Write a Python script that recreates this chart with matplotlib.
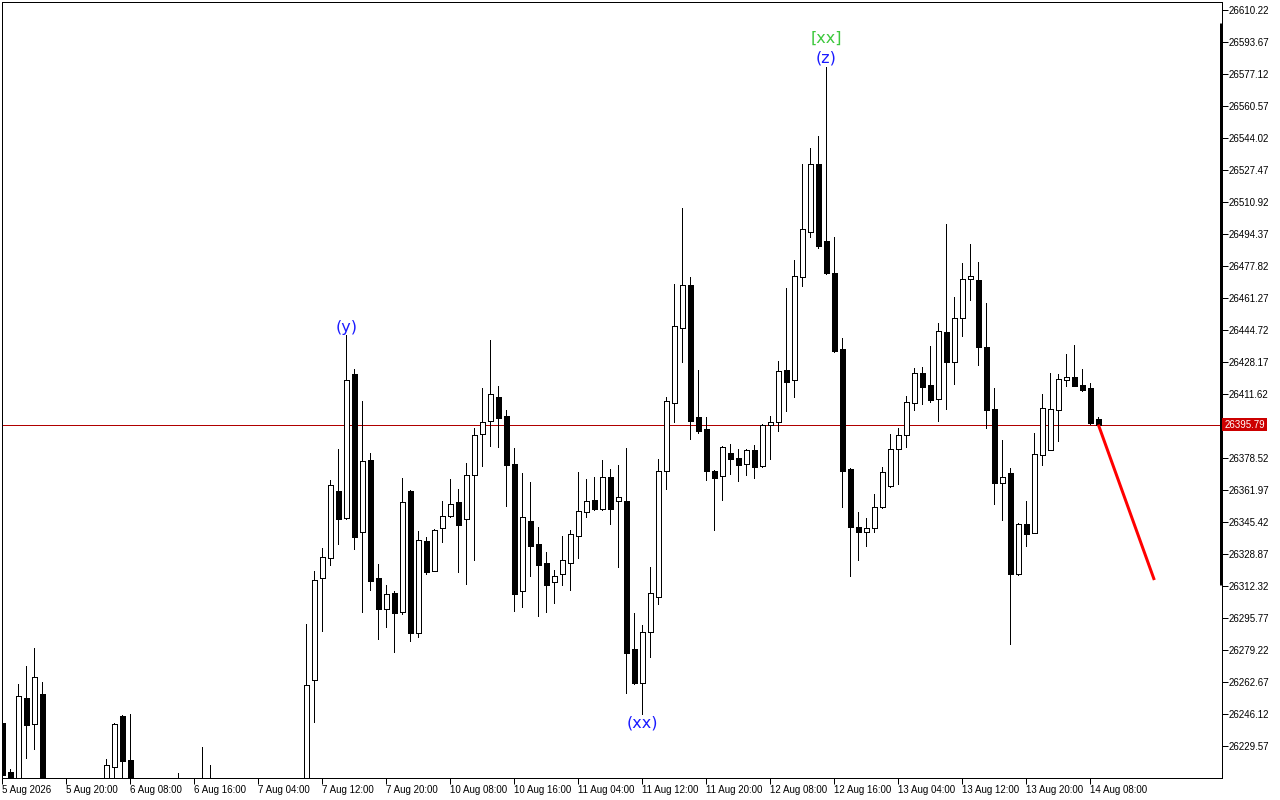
import numpy as np
import matplotlib
matplotlib.use('Agg')
import matplotlib.pyplot as plt
import matplotlib.transforms as mtransforms

nan = np.nan

# H1 bars, one per index; nan = bar completely below the visible price range
opens = [26241.5, 26216.1, 26205.0, 26254.4, 26240.9, 26256.5, nan, nan, nan, nan,
         nan, nan, nan, 26205.0, 26218.7, 26245.1, 26222.4, nan, nan, nan,
         nan, 26208.0, 26207.0, nan, nan, 26206.0, 26208.0, nan, nan, nan,
         nan, nan, nan, nan, nan, nan, nan, nan, 26205.0, 26263.7,
         26316.5, 26326.8, 26361.4, 26347.5, 26422.0, 26340.3, 26377.5, 26316.5, 26300.4, 26308.7,
         26298.9, 26361.4, 26288.0, 26335.6, 26320.1, 26342.4, 26348.5, 26355.8, 26347.0, 26369.7,
         26391.0, 26397.8, 26410.1, 26400.3, 26375.5, 26309.7, 26346.0, 26334.0, 26324.2, 26314.4,
         26318.6, 26324.2, 26338.2, 26350.6, 26356.8, 26352.1, 26368.7, 26356.3, 26356.3, 26279.7,
         26262.1, 26288.5, 26306.6, 26371.8, 26407.0, 26445.8, 26468.0, 26399.7, 26393.5, 26371.8,
         26369.2, 26381.1, 26378.6, 26375.5, 26382.7, 26374.4, 26395.7, 26397.3, 26424.1, 26418.9,
         26472.1, 26495.4, 26530.6, 26490.8, 26474.2, 26434.9, 26372.8, 26342.9, 26340.3, 26342.4,
         26353.2, 26364.0, 26383.2, 26390.5, 26407.0, 26422.5, 26416.3, 26409.0, 26443.7, 26428.2,
         26450.9, 26471.1, 26470.6, 26435.9, 26403.9, 26365.6, 26370.9, 26318.6, 26344.4, 26339.7,
         26380.2, 26382.7, 26403.4, 26418.9, 26420.4, 26416.3, 26414.7, 26398.7]
highs = [26243.0, 26217.7, 26261.6, 26270.9, 26280.3, 26262.7, nan, nan, nan, nan,
         nan, nan, nan, 26222.9, 26241.5, 26245.6, 26246.1, nan, nan, nan,
         nan, 26213.0, 26215.6, nan, nan, 26229.1, 26219.7, nan, nan, nan,
         nan, nan, nan, nan, nan, nan, nan, nan, 26292.7, 26320.1,
         26332.0, 26367.1, 26383.2, 26442.1, 26424.6, 26408.0, 26381.1, 26323.7, 26312.8, 26309.7,
         26368.2, 26361.9, 26340.8, 26337.7, 26341.8, 26356.3, 26367.6, 26362.4, 26376.0, 26394.0,
         26414.7, 26439.5, 26415.8, 26403.4, 26383.8, 26370.9, 26366.2, 26342.9, 26330.0, 26320.6,
         26338.2, 26341.3, 26371.4, 26367.6, 26368.7, 26377.5, 26372.8, 26375.0, 26383.8, 26298.4,
         26292.2, 26322.2, 26378.1, 26410.1, 26468.5, 26507.8, 26472.1, 26424.1, 26399.7, 26372.3,
         26384.8, 26385.8, 26383.2, 26383.2, 26385.3, 26396.2, 26400.3, 26428.7, 26466.4, 26480.9,
         26530.6, 26538.8, 26545.0, 26580.7, 26492.8, 26440.6, 26373.4, 26350.6, 26347.5, 26359.9,
         26374.0, 26391.0, 26394.0, 26410.6, 26425.1, 26425.6, 26436.3, 26448.3, 26499.5, 26461.8,
         26479.4, 26489.2, 26479.9, 26458.7, 26414.7, 26387.8, 26373.4, 26344.9, 26356.3, 26391.5,
         26411.6, 26422.5, 26422.0, 26432.3, 26436.8, 26424.6, 26417.3, 26399.7]
lows = [26212.0, 26205.0, 26200.0, 26223.4, 26228.0, 26200.0, nan, nan, nan, nan,
        nan, nan, nan, 26200.0, 26205.0, 26205.0, 26200.0, nan, nan, nan,
        nan, 26200.0, 26200.0, nan, nan, 26200.0, 26200.0, nan, nan, nan,
        nan, nan, nan, nan, nan, nan, nan, nan, 26200.0, 26242.0,
        26289.0, 26323.2, 26334.0, 26347.0, 26331.5, 26298.9, 26310.3, 26284.9, 26291.1, 26278.2,
        26297.8, 26283.9, 26286.0, 26318.6, 26320.0, 26335.1, 26348.0, 26319.6, 26313.3, 26325.8,
        26374.4, 26384.8, 26384.3, 26353.7, 26299.4, 26301.5, 26317.5, 26296.8, 26298.9, 26303.5,
        26312.8, 26310.3, 26326.8, 26348.0, 26351.6, 26351.6, 26344.4, 26322.2, 26257.0, 26261.6,
        26246.1, 26275.6, 26303.0, 26362.4, 26397.3, 26428.2, 26388.4, 26391.5, 26367.1, 26341.3,
        26356.8, 26370.4, 26366.6, 26369.7, 26368.2, 26374.0, 26378.1, 26392.5, 26402.8, 26410.1,
        26467.5, 26492.8, 26487.1, 26473.5, 26433.3, 26353.2, 26317.5, 26325.8, 26333.0, 26340.3,
        26352.6, 26363.5, 26365.1, 26384.3, 26403.4, 26406.5, 26407.5, 26397.8, 26403.9, 26416.8,
        26441.6, 26460.2, 26426.6, 26394.0, 26354.7, 26346.5, 26282.3, 26318.0, 26333.0, 26339.5,
        26375.0, 26382.5, 26387.3, 26415.8, 26415.5, 26413.2, 26396.2, 26395.1]
closes = [26214.6, 26210.0, 26255.4, 26240.4, 26265.4, 26205.0, nan, nan, nan, nan,
          nan, nan, nan, 26219.7, 26240.9, 26221.8, 26205.0, nan, nan, nan,
          nan, 26206.0, 26209.0, nan, nan, 26208.0, 26205.0, nan, nan, nan,
          nan, nan, nan, nan, nan, nan, nan, nan, 26261.1, 26315.4,
          26327.3, 26364.6, 26347.0, 26418.9, 26337.7, 26377.0, 26314.9, 26300.4, 26308.2, 26298.4,
          26355.8, 26288.0, 26336.1, 26319.6, 26341.3, 26348.5, 26354.7, 26343.9, 26369.7, 26390.5,
          26397.3, 26411.6, 26399.3, 26375.0, 26308.2, 26348.0, 26333.0, 26323.2, 26312.8, 26317.5,
          26325.8, 26339.2, 26351.1, 26356.3, 26352.1, 26368.7, 26352.1, 26358.3, 26277.7, 26262.1,
          26288.5, 26308.7, 26371.8, 26408.0, 26446.8, 26468.0, 26397.8, 26392.5, 26371.8, 26368.2,
          26384.3, 26378.1, 26375.0, 26382.7, 26374.0, 26395.7, 26397.3, 26423.5, 26417.8, 26472.6,
          26497.0, 26530.6, 26488.1, 26474.2, 26433.9, 26371.8, 26342.9, 26340.3, 26342.4, 26353.2,
          26371.3, 26383.2, 26390.5, 26407.5, 26422.5, 26415.3, 26408.5, 26444.2, 26428.2, 26450.9,
          26471.1, 26472.6, 26435.9, 26403.4, 26365.6, 26368.7, 26318.6, 26344.4, 26339.2, 26380.7,
          26404.4, 26403.9, 26419.4, 26420.4, 26415.8, 26413.7, 26396.6, 26395.79]

bid = 26395.79

# time axis labels, one every 8 bars
time_label_idx = list(range(0, 137, 8))
time_labels = ['5 Aug 2026', '5 Aug 20:00', '6 Aug 08:00', '6 Aug 16:00', '7 Aug 04:00',
               '7 Aug 12:00', '7 Aug 20:00', '10 Aug 08:00', '10 Aug 16:00', '11 Aug 04:00',
               '11 Aug 12:00', '11 Aug 20:00', '12 Aug 08:00', '12 Aug 16:00', '13 Aug 04:00',
               '13 Aug 12:00', '13 Aug 20:00', '14 Aug 08:00']

price_ticks = [26229.57, 26246.12, 26262.67, 26279.22, 26295.77, 26312.32, 26328.87, 26345.42,
               26361.97, 26378.52, 26395.07, 26411.62, 26428.17, 26444.72, 26461.27, 26477.82,
               26494.37, 26510.92, 26527.47, 26544.02, 26560.57, 26577.12, 26593.67, 26610.22]
price_tick_labels = ['%.2f' % p for p in price_ticks]
price_tick_labels[10] = ''  # hidden behind the bid tag

# wave marks: (bar, anchor, text, colour, offset in pixels)
wave_labels = [(43, 'high', '(y)', '#1a1aff', 8),
               (80, 'low', '(xx)', '#1a1aff', -9),
               (103, 'high', '(z)', '#1a1aff', 9),
               (103, 'high', '[xx]', '#3cc83c', 29)]

# forecast projection
forecast_idx = [137, 144]
forecast_px = [26395.79, 26315.4]

PX = 72.0 / 100  # one pixel in points

fig = plt.figure(figsize=(12.8, 8.0), dpi=100)
ax = fig.add_axes([2 / 1280, 22 / 800, 1220 / 1280, 776 / 800])

o = np.array(opens)
h = np.array(highs)
l = np.array(lows)
c = np.array(closes)
x = np.arange(len(o))
ok = ~np.isnan(o)

ax.vlines(x[ok], l[ok], h[ok], color='black', linewidth=PX, antialiased=False, zorder=2)
up = ok & (c >= o)
dn = ok & (c < o)
ax.bar(x[up], c[up] - o[up], bottom=o[up], width=0.58, facecolor='white', edgecolor='black',
       linewidth=PX, antialiased=False, zorder=3)
ax.bar(x[dn], o[dn] - c[dn], bottom=c[dn], width=0.58, facecolor='black', edgecolor='black',
       linewidth=PX, antialiased=False, zorder=3)

# bid line and tag
ax.axhline(bid, color='#b00000', linewidth=PX, zorder=1)
trans = mtransforms.blended_transform_factory(ax.transAxes, ax.transData)
ax.text(1.0018, bid, '%.2f' % bid, transform=trans, ha='left', va='center', color='white',
        fontsize=7, family='Liberation Sans',
        bbox=dict(boxstyle='square,pad=0.18', facecolor='#cc0000', edgecolor='none'))

# forecast line
ax.plot(forecast_idx, forecast_px, color='#ff0000', linewidth=3 * PX, zorder=4,
        solid_capstyle='butt')

for idx, anchor, txt, col, off in wave_labels:
    yv = highs[idx] if anchor == 'high' else lows[idx]
    ax.annotate(txt, (idx, yv), xytext=(0, off * PX), textcoords='offset points',
                ha='center', va='center', color=col, fontsize=11.5, family='DejaVu Sans')

# scale marker on the right edge
ax.plot([0.9995, 0.9995], [26603.5, 26312.8], transform=trans, color='black',
        linewidth=3 * PX, solid_capstyle='butt', clip_on=False)

ax.set_xlim(-0.04, 152.46)
ax.set_ylim(26213.0, 26614.36)

ax.set_xticks(time_label_idx)
ax.set_xticklabels(time_labels, ha='left', family='Liberation Sans', fontsize=7)
ax.tick_params(axis='x', direction='out', length=4, width=PX, pad=1)

ax.yaxis.tick_right()
ax.set_yticks(price_ticks)
ax.set_yticklabels(price_tick_labels, family='Liberation Sans', fontsize=7)
ax.tick_params(axis='y', direction='out', length=4, width=PX, pad=1)

for s in ax.spines.values():
    s.set_linewidth(PX)
    s.set_color('black')

fig.savefig('out.png', dpi=100)
